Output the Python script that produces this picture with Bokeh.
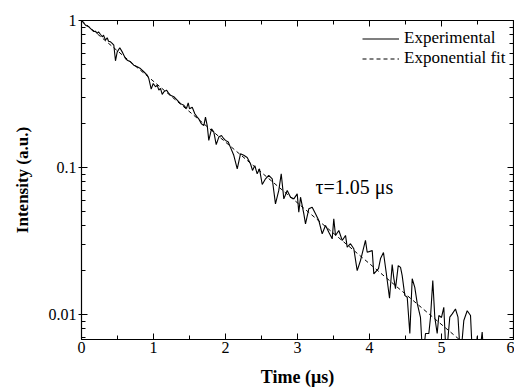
from bokeh.plotting import figure
from bokeh.models import (FixedTicker, LinearAxis, LogAxis, CustomJSTickFormatter,
                          Label, Range1d)
from bokeh.embed import file_html
from bokeh.resources import INLINE

# ---- data ----
t_exp = [0.000, 0.056, 0.101, 0.149, 0.167, 0.194, 0.218, 0.236, 0.264, 0.288,
         0.306, 0.333, 0.357, 0.375, 0.403, 0.426, 0.449, 0.472, 0.496, 0.532,
         0.565, 0.588, 0.611, 0.635, 0.681, 0.726, 0.774, 0.819, 0.865, 0.913,
         0.935, 0.968, 0.996, 1.028, 1.051, 1.074, 1.097, 1.121, 1.143, 1.181,
         1.213, 1.236, 1.282, 1.329, 1.375, 1.421, 1.458,
         1.482, 1.500, 1.538, 1.574, 1.607, 1.629, 1.667, 1.699, 1.722, 1.746,
         1.768, 1.806, 1.838, 1.871, 1.907, 1.944, 1.976, 2.000, 2.038, 2.069,
         2.115, 2.163, 2.208, 2.254, 2.301, 2.347,
         2.375, 2.407, 2.440, 2.472, 2.510, 2.556, 2.601, 2.649, 2.694, 2.740,
         2.774, 2.810, 2.857, 2.903, 2.949, 2.996, 3.018, 3.042, 3.088, 3.111,
         3.157, 3.204, 3.250, 3.296, 3.343, 3.389, 3.435, 3.482, 3.504, 3.528,
         3.574, 3.621, 3.667, 3.690, 3.736, 3.782, 3.829, 3.875, 3.944, 3.968,
         4.038, 4.060,
         4.125, 4.153, 4.194, 4.232, 4.278, 4.315, 4.338, 4.361, 4.399, 4.431,
         4.454, 4.490, 4.524, 4.560, 4.593, 4.629, 4.663, 4.708, 4.740, 4.778,
         4.824, 4.847, 4.879, 4.907, 4.940, 4.963, 5.000, 5.032, 5.065, 5.115,
         5.149, 5.194, 5.229, 5.264, 5.310, 5.357, 5.403, 5.431, 5.472, 5.496,
         5.521, 5.565, 5.590]
i_exp = [1.000, 0.929, 0.906, 0.859, 0.842, 0.846, 0.816, 0.838, 0.803, 0.775,
         0.794, 0.735, 0.763, 0.723, 0.716, 0.698, 0.679, 0.532, 0.612, 0.652,
         0.612, 0.581, 0.551, 0.537, 0.524, 0.497, 0.484, 0.471, 0.448, 0.425,
         0.403, 0.341, 0.373, 0.354, 0.363, 0.336, 0.345, 0.314, 0.327, 0.336,
         0.319, 0.310, 0.303, 0.287, 0.272, 0.265, 0.252,
         0.275, 0.251, 0.257, 0.232, 0.220, 0.214, 0.198, 0.193, 0.220, 0.193,
         0.153, 0.183, 0.174, 0.143, 0.161, 0.165, 0.157, 0.153, 0.149, 0.137,
         0.121, 0.098, 0.124, 0.121, 0.117, 0.106,
         0.0955, 0.103, 0.0906, 0.098, 0.0766, 0.0838, 0.0883, 0.0838, 0.0566, 0.0698,
         0.0906, 0.0612, 0.0698, 0.0628, 0.0612, 0.0662, 0.0497, 0.0628, 0.0484, 0.0414,
         0.0524, 0.0537, 0.0484, 0.0436, 0.0354, 0.0403, 0.0363, 0.0327, 0.0448, 0.0345,
         0.0373, 0.0319, 0.0345, 0.0287, 0.0303, 0.0280, 0.0199, 0.0233, 0.0319, 0.0265,
         0.0272, 0.0189,
         0.0205, 0.0240, 0.0264, 0.0193, 0.0129, 0.0219, 0.0176, 0.0150, 0.0215, 0.0209,
         0.0184, 0.0135, 0.0131, 0.00743, 0.0175, 0.0153, 0.0119, 0.00955, 0.005, 0.00743,
         0.00743, 0.00955, 0.0170, 0.00955, 0.00743, 0.00985, 0.00955, 0.0112, 0.005, 0.00959,
         0.0101, 0.0109, 0.00959, 0.005, 0.0091, 0.0106, 0.00985, 0.005, 0.005, 0.0071,
         0.005, 0.0076, 0.005]

# exponential fit (straight line on the log scale), end points
t_fit = [0.0, 5.6]
i_fit = [1.0, 0.00483]

x_ticks = [0, 1, 2, 3, 4, 5, 6]
x_minor = [0.5, 1.5, 2.5, 3.5, 4.5, 5.5]
y_ticks = [0.01, 0.1, 1.0]
y_minor = [0.007, 0.008, 0.009, 0.02, 0.03, 0.04, 0.05, 0.06, 0.07, 0.08, 0.09,
           0.2, 0.3, 0.4, 0.5, 0.6, 0.7, 0.8, 0.9]

annotation = "τ=1.05 μs"
ann_x, ann_y = 3.25, 0.074

SERIF = "Liberation Serif"

p = figure(width=514, height=391, y_axis_type="log",
           x_range=Range1d(0, 6), y_range=Range1d(0.00676, 1.0),
           output_backend="svg", toolbar_location=None,
           min_border_left=81, min_border_right=1, min_border_top=20,
           min_border_bottom=52, background_fill_color="white",
           border_fill_color="white")
p.grid.visible = False
p.outline_line_color = "black"

p.line(t_exp, i_exp, line_color="black", line_width=1.1, legend_label="Experimental")
p.line(t_fit, i_fit, line_color="black", line_width=1.0, line_dash="4 3",
       legend_label="Exponential fit")

def style_axis(ax, ticks, minor, labels=True):
    ax.ticker = FixedTicker(ticks=ticks, minor_ticks=minor)
    ax.axis_line_color = "black"
    ax.axis_line_width = 1.2
    ax.major_tick_in = 6
    ax.major_tick_out = 0
    ax.minor_tick_in = 4
    ax.minor_tick_out = 0
    ax.major_tick_line_color = "black"
    ax.minor_tick_line_color = "black"
    ax.major_label_text_font = SERIF
    ax.major_label_text_font_size = "16px"
    ax.major_label_text_color = "black"
    ax.axis_label_text_color = "black"
    if not labels:
        ax.formatter = CustomJSTickFormatter(code="return ''")
        ax.major_label_text_font_size = "0px"
        ax.major_label_standoff = 0

xa = p.xaxis[0]
style_axis(xa, x_ticks, x_minor)
xa.major_label_standoff = 2
xa.axis_label = "Time (μs)"
xa.axis_label_text_font = SERIF
xa.axis_label_text_font_style = "bold"
xa.axis_label_text_font_size = "18px"
xa.axis_label_standoff = 11

ya = p.yaxis[0]
style_axis(ya, y_ticks, y_minor)
ya.major_tick_out = 3
ya.major_label_standoff = 2
ya.formatter = CustomJSTickFormatter(code="return String(tick)")
ya.axis_label = "Intensity (a.u.)"
ya.axis_label_text_font = SERIF
ya.axis_label_text_font_style = "bold"
ya.axis_label_text_font_size = "17px"
ya.axis_label_standoff = 14

top = LinearAxis()
style_axis(top, x_ticks, x_minor, labels=False)
p.add_layout(top, "above")
right = LogAxis()
style_axis(right, y_ticks, y_minor, labels=False)
p.add_layout(right, "right")

p.add_layout(Label(x=ann_x, y=ann_y, text=annotation, text_font=SERIF,
                   text_font_size="20px", text_baseline="middle", text_align="left",
                   text_color="black"))

lg = p.legend[0]
lg.location = (281, 271)
lg.border_line_color = None
lg.background_fill_alpha = 0
lg.label_text_font = SERIF
lg.label_text_font_size = "17px"
lg.label_text_color = "black"
lg.glyph_width = 37
lg.glyph_height = 19
lg.label_height = 19
lg.label_standoff = 5
lg.spacing = 0
lg.margin = 0
lg.padding = 0

open("out.html", "w").write(file_html(p, INLINE))
